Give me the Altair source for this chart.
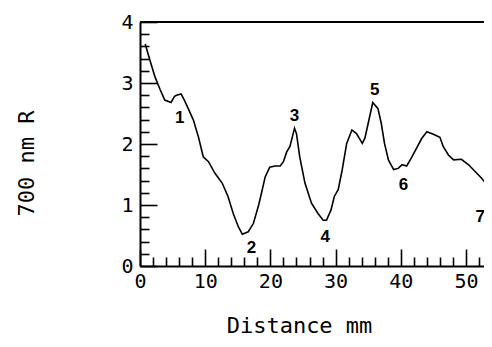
import altair as alt
import pandas as pd

dist = [0.8, 1.5, 2.3, 3.1, 3.8, 4.75, 5.3, 5.6, 6.3, 6.8, 7.4, 8.2, 8.95, 9.7, 10.5,
        11.5, 12.6, 13.5, 14.3, 15.1, 15.7, 16.6, 17.4, 18.2, 18.6, 19.2, 19.9, 20.7,
        21.5, 22.0, 22.5, 23.0, 23.7, 24.0, 24.5, 25.3, 26.3, 27.3, 28.1, 28.6, 29.3,
        29.8, 30.4, 31.0, 31.7, 32.5, 33.2, 34.1, 34.5, 35.0, 35.7, 36.5, 37.0, 37.5,
        38.1, 38.9, 39.6, 40.2, 40.9, 41.6, 42.4, 43.2, 44.0, 45.0, 46.0, 46.5, 47.3,
        48.1, 49.3, 50.4, 51.4, 52.4, 53.2, 53.8, 54.3]
refl = [3.64, 3.38, 3.10, 2.89, 2.72, 2.68, 2.78, 2.80, 2.82, 2.72, 2.58, 2.39, 2.12,
        1.79, 1.71, 1.52, 1.36, 1.14, 0.86, 0.64, 0.52, 0.56, 0.70, 1.00, 1.18, 1.46,
        1.62, 1.64, 1.64, 1.71, 1.87, 1.96, 2.26, 2.17, 1.79, 1.36, 1.03, 0.86, 0.75,
        0.75, 0.92, 1.14, 1.25, 1.57, 2.01, 2.23, 2.17, 2.01, 2.10, 2.34, 2.68, 2.58,
        2.34, 2.01, 1.74, 1.58, 1.60, 1.66, 1.64, 1.77, 1.93, 2.09, 2.20, 2.16, 2.11,
        1.96, 1.82, 1.74, 1.75, 1.66, 1.55, 1.44, 1.33, 1.19, 1.10]

mark_labels = ["1", "2", "3", "4", "5", "6", "7"]
mark_x = [6.1, 17.1, 23.7, 28.4, 36.0, 40.4, 52.2]
mark_y = [2.42, 0.29, 2.46, 0.48, 2.89, 1.33, 0.80]

x_major = [0, 10, 20, 30, 40, 50]
x_minor = [2, 4, 6, 8, 12, 14, 16, 18, 22, 24, 26, 28, 32, 34, 36, 38, 42, 44, 46, 48, 52]
y_major = [0, 1, 2, 3, 4]
y_minor = [0.2, 0.4, 0.6, 0.8, 1.2, 1.4, 1.6, 1.8, 2.2, 2.4, 2.6, 2.8, 3.2, 3.4, 3.6, 3.8]

W, H = 344, 244
PX_PER_MM = 6.52
XMAX = W / PX_PER_MM
YMAX = 4
MONO = "DejaVu Sans Mono"
MAJOR_PX, MINOR_PX = 17, 9

xs = alt.Scale(domain=[0, XMAX], nice=False, zero=False)
ys = alt.Scale(domain=[0, YMAX], nice=False)

curve = pd.DataFrame({"d": dist, "r": refl})
labels = pd.DataFrame({"t": mark_labels, "x": mark_x, "y": mark_y})

xaxis = alt.Axis(values=x_major, ticks=False, grid=False, domainColor="black",
                 domainWidth=2, labelFont=MONO, labelFontSize=20, labelColor="black",
                 labelPadding=5, titleFont=MONO, titleFontSize=22, titleFontWeight="normal",
                 titleColor="black", titleX=159, titleY=59, titleBaseline="middle",
                 titleAlign="center", labelFlush=False, format="d", orient="bottom")
yaxis = alt.Axis(values=y_major, ticks=False, grid=False, domainColor="black",
                 domainWidth=2, labelFont=MONO, labelFontSize=20, labelColor="black",
                 labelPadding=7, titleFont=MONO, titleFontSize=22, titleFontWeight="normal",
                 titleColor="black", titleX=-114, titleY=141, titleBaseline="middle",
                 titleAlign="center", titleAngle=270, labelFlush=False, format="d",
                 orient="left")

line = alt.Chart(curve).mark_line(color="black", strokeWidth=1.6).encode(
    x=alt.X("d:Q", scale=xs, axis=xaxis, title="Distance mm"),
    y=alt.Y("r:Q", scale=ys, axis=yaxis, title="700 nm R"),
)

top = alt.Chart(pd.DataFrame({"v": [YMAX]})).mark_rule(color="black", strokeWidth=2).encode(
    y=alt.Y("v:Q", scale=ys, axis=None))

text = alt.Chart(labels).mark_text(font="Liberation Sans", fontSize=17, fontWeight="bold",
                                   color="black", baseline="middle", align="center").encode(
    x=alt.X("x:Q", scale=xs, axis=None), y=alt.Y("y:Q", scale=ys, axis=None), text="t:N")


# inward-pointing ticks: extra axes placed on the opposite side and shifted onto the frame
def xtick_axis(vals, px):
    ax = alt.Axis(orient="top", offset=-H, values=vals, tickSize=px, tickWidth=1.6,
                  tickColor="black", labels=False, domain=False, grid=False, title=None)
    return alt.Chart(pd.DataFrame({"v": vals})).mark_point(opacity=0).encode(
        x=alt.X("v:Q", scale=xs, axis=ax))


def ytick_axis(vals, px):
    ax = alt.Axis(orient="right", offset=-W, values=vals, tickSize=px, tickWidth=1.6,
                  tickColor="black", labels=False, domain=False, grid=False, title=None)
    return alt.Chart(pd.DataFrame({"v": vals})).mark_point(opacity=0).encode(
        y=alt.Y("v:Q", scale=ys, axis=ax))


chart = alt.layer(
    line, top, text,
    xtick_axis(x_major, MAJOR_PX), xtick_axis(x_minor, MINOR_PX),
    ytick_axis(y_major, MAJOR_PX), ytick_axis(y_minor, MINOR_PX),
).resolve_axis(x="independent", y="independent").properties(
    width=W, height=H,
    autosize=alt.AutoSizeParams(type="none"),
    padding={"left": 132, "top": 14, "right": 0, "bottom": 73},
).configure_view(stroke=None)

chart.save("out.html", embed_options={"renderer": "svg", "actions": False})
